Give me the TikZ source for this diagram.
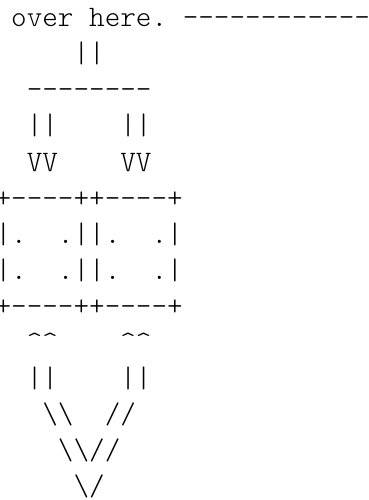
\documentclass[tikz,border=0pt]{standalone}
\newcommand\asciifont{\fontfamily{lmtt}\fontseries{l}\selectfont\fontsize{29.71}{36}\selectfont}
\newcommand\dd{-\kern0pt }
\newcommand\bs{\textbackslash\kern0pt }
\newcommand\ct{\textasciicircum\kern0pt }
\begin{document}
\begin{tikzpicture}[x=1pt,y=-1pt,
  asc/.style={anchor=base west, inner sep=0pt, outer sep=0pt, font=\asciifont}]
\useasboundingbox (0,0) rectangle (368,500);
\clip (0,0) rectangle (368,500);
\node[asc] (l1)  at (-4.4,27)  {~over~here.~\dd\dd\dd\dd\dd\dd\dd\dd\dd\dd\dd\dd};
\node[asc] (l2)  at (-4.4,63)  {~~~~~||};
\node[asc] (l3)  at (-4.4,99)  {~~\dd\dd\dd\dd\dd\dd\dd\dd};
\node[asc] (l4)  at (-4.4,135) {~~||~~~~||};
\node[asc] (l5)  at (-4.4,171) {~~VV~~~~VV};
\node[asc] (l6)  at (-4.4,207) {+\dd\dd\dd\dd++\dd\dd\dd\dd+};
\node[asc] (l7)  at (-4.4,243) {|.~~.||.~~.|};
\node[asc] (l8)  at (-4.4,279) {|.~~.||.~~.|};
\node[asc] (l9)  at (-4.4,315) {+\dd\dd\dd\dd++\dd\dd\dd\dd+};
\node[asc] (l10) at (-4.4,351) {~~\ct\ct~~~~\ct\ct};
\node[asc] (l11) at (-4.4,387) {~~||~~~~||};
\node[asc] (l12) at (-4.4,423) {~~~\bs\bs~~//};
\node[asc] (l13) at (-4.4,459) {~~~~\bs\bs//};
\node[asc] (l14) at (-4.4,495) {~~~~~\bs/};
\end{tikzpicture}
\end{document}
